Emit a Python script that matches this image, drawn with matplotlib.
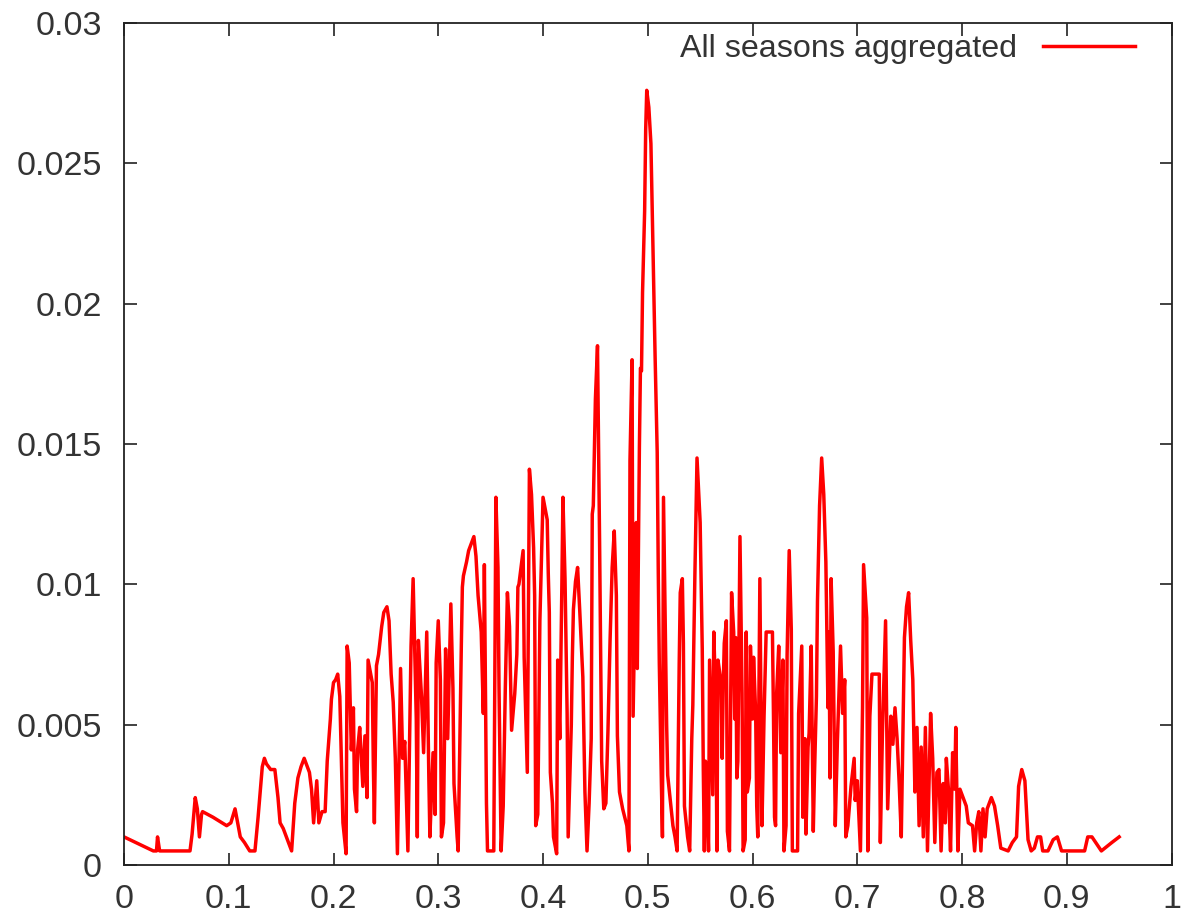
import matplotlib
matplotlib.use("Agg")
import matplotlib.pyplot as plt
from matplotlib.ticker import FuncFormatter, MultipleLocator

# values
x_vals = [
    0.000, 0.028, 0.031, 0.032, 0.034, 0.063, 0.065, 0.068, 0.070, 0.072,
    0.074, 0.075, 0.085, 0.098, 0.102, 0.106, 0.109, 0.111, 0.115, 0.120,
    0.125, 0.128, 0.132, 0.134, 0.136, 0.140, 0.144, 0.147, 0.149, 0.152,
    0.156, 0.160, 0.163, 0.166, 0.169, 0.172, 0.175, 0.177, 0.179, 0.181,
    0.184, 0.186, 0.189, 0.192, 0.194, 0.197, 0.198, 0.200, 0.202, 0.204,
    0.206, 0.209, 0.212, 0.213, 0.215, 0.217, 0.219, 0.220, 0.222, 0.223,
    0.225, 0.228, 0.230, 0.232, 0.233, 0.237, 0.238, 0.239, 0.241, 0.243,
    0.246, 0.248, 0.251, 0.253, 0.255, 0.257, 0.259, 0.261, 0.264, 0.266,
    0.268, 0.271, 0.274, 0.276, 0.279, 0.280, 0.281, 0.284, 0.286, 0.289,
    0.291, 0.292, 0.295, 0.297, 0.298, 0.300, 0.302, 0.303, 0.305, 0.307,
    0.309, 0.312, 0.314, 0.315, 0.318, 0.319, 0.322, 0.323, 0.324, 0.327,
    0.329, 0.332, 0.334, 0.336, 0.338, 0.341, 0.343, 0.344, 0.346, 0.347,
    0.353, 0.355, 0.357, 0.358, 0.360, 0.362, 0.364, 0.366, 0.368, 0.370,
    0.373, 0.375, 0.376, 0.377, 0.381, 0.382, 0.384, 0.385, 0.387, 0.389,
    0.391, 0.392, 0.393, 0.395, 0.397, 0.399, 0.400, 0.404, 0.405, 0.406,
    0.407, 0.409, 0.410, 0.413, 0.414, 0.416, 0.418, 0.419, 0.421, 0.423,
    0.424, 0.427, 0.428, 0.429, 0.431, 0.433, 0.435, 0.438, 0.440, 0.442,
    0.444, 0.446, 0.447, 0.448, 0.450, 0.452, 0.454, 0.456, 0.458, 0.460,
    0.462, 0.464, 0.466, 0.468, 0.470, 0.471, 0.473, 0.476, 0.478, 0.480,
    0.482, 0.483, 0.485, 0.486, 0.489, 0.490, 0.492, 0.493, 0.494, 0.495,
    0.497, 0.498, 0.499, 0.501, 0.503, 0.505, 0.507, 0.509, 0.510, 0.511,
    0.513, 0.514, 0.515, 0.518, 0.519, 0.522, 0.524, 0.526, 0.528, 0.530,
    0.531, 0.533, 0.534, 0.535, 0.538, 0.540, 0.542, 0.543, 0.545, 0.547,
    0.550, 0.552, 0.553, 0.554, 0.555, 0.557, 0.558, 0.559, 0.562, 0.563,
    0.565, 0.566, 0.567, 0.570, 0.571, 0.572, 0.573, 0.575, 0.576, 0.578,
    0.580, 0.582, 0.583, 0.584, 0.585, 0.586, 0.588, 0.590, 0.591, 0.593,
    0.594, 0.595, 0.597, 0.598, 0.600, 0.601, 0.603, 0.604, 0.605, 0.607,
    0.609, 0.611, 0.613, 0.619, 0.620, 0.621, 0.622, 0.623, 0.625, 0.627,
    0.629, 0.630, 0.632, 0.633, 0.635, 0.637, 0.638, 0.643, 0.644, 0.647,
    0.648, 0.650, 0.651, 0.653, 0.654, 0.656, 0.658, 0.659, 0.661, 0.662,
    0.664, 0.666, 0.668, 0.670, 0.672, 0.673, 0.674, 0.675, 0.677, 0.679,
    0.681, 0.684, 0.686, 0.688, 0.689, 0.691, 0.694, 0.697, 0.698, 0.700,
    0.703, 0.705, 0.706, 0.709, 0.710, 0.712, 0.714, 0.721, 0.722, 0.724,
    0.727, 0.729, 0.732, 0.734, 0.736, 0.738, 0.740, 0.742, 0.744, 0.745,
    0.747, 0.749, 0.751, 0.753, 0.755, 0.757, 0.759, 0.761, 0.763, 0.765,
    0.767, 0.770, 0.772, 0.774, 0.776, 0.778, 0.780, 0.782, 0.784, 0.785,
    0.787, 0.789, 0.791, 0.793, 0.794, 0.796, 0.798, 0.801, 0.804, 0.806,
    0.810, 0.812, 0.814, 0.816, 0.818, 0.820, 0.822, 0.824, 0.828, 0.831,
    0.834, 0.837, 0.844, 0.848, 0.852, 0.854, 0.857, 0.860, 0.861, 0.863,
    0.866, 0.869, 0.872, 0.875, 0.877, 0.882, 0.887, 0.891, 0.895, 0.917,
    0.920, 0.924, 0.933, 0.943, 0.950,
]
y_vals = [
    0.0010, 0.0005, 0.0005, 0.0010, 0.0005, 0.0005, 0.0011, 0.0024, 0.0020, 0.0010,
    0.0018, 0.0019, 0.0017, 0.0014, 0.0015, 0.0020, 0.0014, 0.0010, 0.0008, 0.0005,
    0.0005, 0.0017, 0.0035, 0.0038, 0.0036, 0.0034, 0.0034, 0.0024, 0.0015, 0.0013,
    0.0009, 0.0005, 0.0022, 0.0031, 0.0035, 0.0038, 0.0035, 0.0033, 0.0027, 0.0015,
    0.0030, 0.0015, 0.0019, 0.0019, 0.0037, 0.0052, 0.0059, 0.0065, 0.0066, 0.0068,
    0.0060, 0.0015, 0.0004, 0.0078, 0.0072, 0.0041, 0.0056, 0.0027, 0.0019, 0.0041,
    0.0049, 0.0028, 0.0046, 0.0024, 0.0073, 0.0065, 0.0036, 0.0015, 0.0071, 0.0075,
    0.0085, 0.0090, 0.0092, 0.0087, 0.0068, 0.0058, 0.0038, 0.0004, 0.0070, 0.0038,
    0.0044, 0.0005, 0.0078, 0.0102, 0.0052, 0.0010, 0.0080, 0.0060, 0.0040, 0.0083,
    0.0031, 0.0010, 0.0040, 0.0018, 0.0072, 0.0087, 0.0066, 0.0010, 0.0015, 0.0077,
    0.0045, 0.0093, 0.0063, 0.0029, 0.0010, 0.0005, 0.0078, 0.0099, 0.0103, 0.0108,
    0.0112, 0.0115, 0.0117, 0.0110, 0.0096, 0.0083, 0.0054, 0.0107, 0.0022, 0.0005,
    0.0005, 0.0131, 0.0106, 0.0063, 0.0005, 0.0021, 0.0063, 0.0097, 0.0085, 0.0048,
    0.0061, 0.0075, 0.0099, 0.0100, 0.0112, 0.0074, 0.0047, 0.0033, 0.0141, 0.0132,
    0.0113, 0.0096, 0.0014, 0.0018, 0.0087, 0.0116, 0.0131, 0.0123, 0.0104, 0.0090,
    0.0033, 0.0022, 0.0010, 0.0004, 0.0073, 0.0045, 0.0100, 0.0131, 0.0102, 0.0054,
    0.0010, 0.0050, 0.0074, 0.0091, 0.0101, 0.0106, 0.0091, 0.0067, 0.0026, 0.0005,
    0.0022, 0.0045, 0.0125, 0.0128, 0.0166, 0.0185, 0.0115, 0.0037, 0.0020, 0.0022,
    0.0048, 0.0080, 0.0106, 0.0119, 0.0096, 0.0046, 0.0026, 0.0020, 0.0017, 0.0014,
    0.0005, 0.0144, 0.0180, 0.0053, 0.0122, 0.0070, 0.0149, 0.0177, 0.0176, 0.0204,
    0.0233, 0.0262, 0.0276, 0.0270, 0.0257, 0.0219, 0.0181, 0.0147, 0.0105, 0.0072,
    0.0029, 0.0010, 0.0131, 0.0050, 0.0032, 0.0021, 0.0014, 0.0010, 0.0005, 0.0072,
    0.0097, 0.0102, 0.0079, 0.0021, 0.0010, 0.0005, 0.0045, 0.0057, 0.0104, 0.0145,
    0.0122, 0.0077, 0.0034, 0.0005, 0.0037, 0.0018, 0.0005, 0.0073, 0.0025, 0.0083,
    0.0057, 0.0005, 0.0073, 0.0065, 0.0038, 0.0063, 0.0079, 0.0087, 0.0012, 0.0005,
    0.0097, 0.0083, 0.0052, 0.0081, 0.0031, 0.0037, 0.0117, 0.0061, 0.0005, 0.0009,
    0.0083, 0.0026, 0.0031, 0.0078, 0.0052, 0.0074, 0.0054, 0.0021, 0.0010, 0.0102,
    0.0014, 0.0053, 0.0083, 0.0083, 0.0053, 0.0017, 0.0014, 0.0061, 0.0078, 0.0040,
    0.0073, 0.0005, 0.0014, 0.0075, 0.0112, 0.0084, 0.0005, 0.0005, 0.0054, 0.0078,
    0.0017, 0.0045, 0.0011, 0.0042, 0.0047, 0.0078, 0.0012, 0.0030, 0.0060, 0.0094,
    0.0128, 0.0145, 0.0132, 0.0108, 0.0056, 0.0083, 0.0031, 0.0102, 0.0076, 0.0014,
    0.0044, 0.0078, 0.0054, 0.0066, 0.0010, 0.0014, 0.0028, 0.0038, 0.0023, 0.0030,
    0.0005, 0.0056, 0.0107, 0.0088, 0.0005, 0.0053, 0.0068, 0.0068, 0.0008, 0.0047,
    0.0087, 0.0020, 0.0053, 0.0043, 0.0056, 0.0045, 0.0029, 0.0010, 0.0059, 0.0081,
    0.0092, 0.0097, 0.0080, 0.0066, 0.0026, 0.0049, 0.0014, 0.0042, 0.0010, 0.0049,
    0.0005, 0.0054, 0.0038, 0.0008, 0.0033, 0.0034, 0.0005, 0.0029, 0.0015, 0.0038,
    0.0027, 0.0005, 0.0040, 0.0027, 0.0049, 0.0005, 0.0027, 0.0024, 0.0021, 0.0015,
    0.0014, 0.0005, 0.0015, 0.0019, 0.0005, 0.0020, 0.0010, 0.0020, 0.0024, 0.0021,
    0.0014, 0.0006, 0.0005, 0.0008, 0.0010, 0.0028, 0.0034, 0.0030, 0.0023, 0.0009,
    0.0005, 0.0006, 0.0010, 0.0010, 0.0005, 0.0005, 0.0009, 0.0010, 0.0005, 0.0005,
    0.0010, 0.0010, 0.0005, 0.0008, 0.0010,
]

plt.rcParams['font.family'] = ['Liberation Sans', 'DejaVu Sans']

fig = plt.figure(figsize=(11.81, 9.19), dpi=100)
ax = fig.add_axes([0.105, 0.0588, 0.887, 0.9162])

ax.plot(x_vals, y_vals, color='#ff0000', lw=2.5, label='All seasons aggregated')

ax.set_xlim(0, 1)
ax.set_ylim(0, 0.03)
ax.xaxis.set_major_locator(MultipleLocator(0.1))
ax.yaxis.set_major_locator(MultipleLocator(0.005))
fmt = FuncFormatter(lambda v, p: '%g' % round(v, 4))
ax.xaxis.set_major_formatter(fmt)
ax.yaxis.set_major_formatter(fmt)

ax.tick_params(direction='in', length=9, width=1.3, top=True, right=True,
               labelsize=24.5, colors='#333333')
ax.tick_params(axis='x', pad=14)
ax.tick_params(axis='y', pad=16)
for s in ax.spines.values():
    s.set_linewidth(1.3)
    s.set_color('#222222')

ax.legend(loc='upper right', bbox_to_anchor=(0.965, 0.987), frameon=False,
          markerfirst=False, fontsize=23.2, handlelength=2.85,
          handletextpad=0.8, borderpad=0, borderaxespad=0,
          labelcolor='#333333')

fig.savefig('out.png', dpi=100)
